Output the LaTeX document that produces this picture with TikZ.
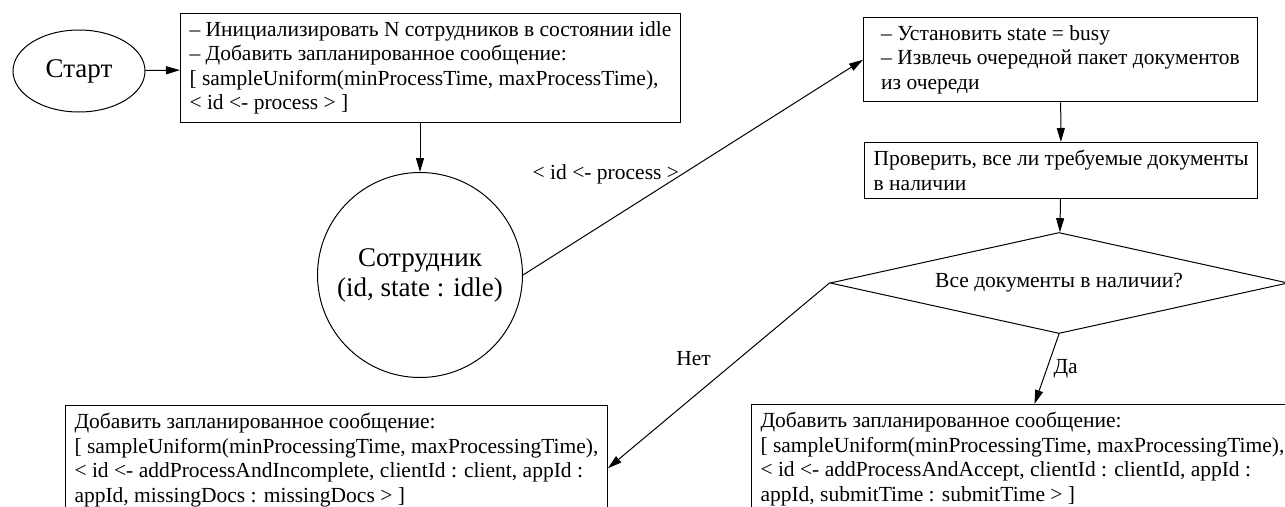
\documentclass[tikz,border=0pt]{standalone}
\usepackage{fontspec}
\setmainfont{Liberation Serif}
\newfontfamily\gvfont{Liberation Serif}
\usetikzlibrary{shapes.geometric,arrows.meta,positioning}

\tikzset{
  every node/.style={font=\gvfont\fontsize{21.5}{24.5}\selectfont},
  bigtext/.style={font=\gvfont\fontsize{27}{30}\selectfont},
  block/.style={draw, rectangle, align=left, inner xsep=9pt, inner ysep=8pt, line width=1pt},
  line/.style={draw, line width=1pt, -{Triangle[length=14pt,width=8pt]}}
}

\begin{document}
\begin{tikzpicture}[x=1pt,y=-1pt]
  \useasboundingbox (0,0) rectangle (1285,506);
  \clip (0,0) rectangle (1285,506);

  \node[ellipse, draw, line width=1pt, bigtext, minimum width=132pt, minimum height=82pt] (start) at (79,71) {Старт};
  \node[block, anchor=north west] (init) at (180,13) {– Инициализировать N сотрудников в состоянии idle\\
    – Добавить запланированное сообщение:\\
    {[} sampleUniform(minProcessTime, maxProcessTime),\\
    < id <- process > ]};
  \node[circle, draw, line width=1pt, bigtext, minimum size=205pt, align=center] (worker) at (420,275) {Сотрудник\\(id, state : idle)};

  \node[block, anchor=north west, minimum width=394pt] (busy) at (863,17) {– Установить state = busy\\
    – Извлечь очередной пакет документов\\
    из очереди};
  \node[block, anchor=north west] (docs) at (864,142) {Проверить, все ли требуемые документы\\
    в наличии};
  \node[diamond, draw, line width=1pt, aspect=4.5, minimum width=458pt, minimum height=101pt] (check) at (1059,283) {Все документы в наличии?};

  \node[block, anchor=north west] (incomplete) at (65,405) {Добавить запланированное сообщение:\\
    {[} sampleUniform(minProcessingTime, maxProcessingTime),\\
    < id <- addProcessAndIncomplete, clientId : client, appId :\\
    appId, missingDocs : missingDocs > ]};
  \node[block, anchor=north west] (accept) at (751,404) {Добавить запланированное сообщение:\\
    {[} sampleUniform(minProcessingTime, maxProcessingTime),\\
    < id <- addProcessAndAccept, clientId : clientId, appId :\\
    appId, submitTime : submitTime > ]};

  % connectors
  \draw[line] (start) -- (init);
  \draw[line] (init.south -| worker) -- (worker);
  \draw[line] (worker.east) -- node[pos=0.47, left] {< id <- process >} (busy.west);
  \draw[line] (busy) -- (docs);
  \draw[line] (docs) -- (check);
  \draw[line] (check.west) -- node[pos=0.41, left=24pt] {Нет} ([yshift=-8pt]incomplete.east);
  \draw[line] (check.south) -- node[right=3pt] {Да} ([xshift=12pt]accept.north);
\end{tikzpicture}
\end{document}
